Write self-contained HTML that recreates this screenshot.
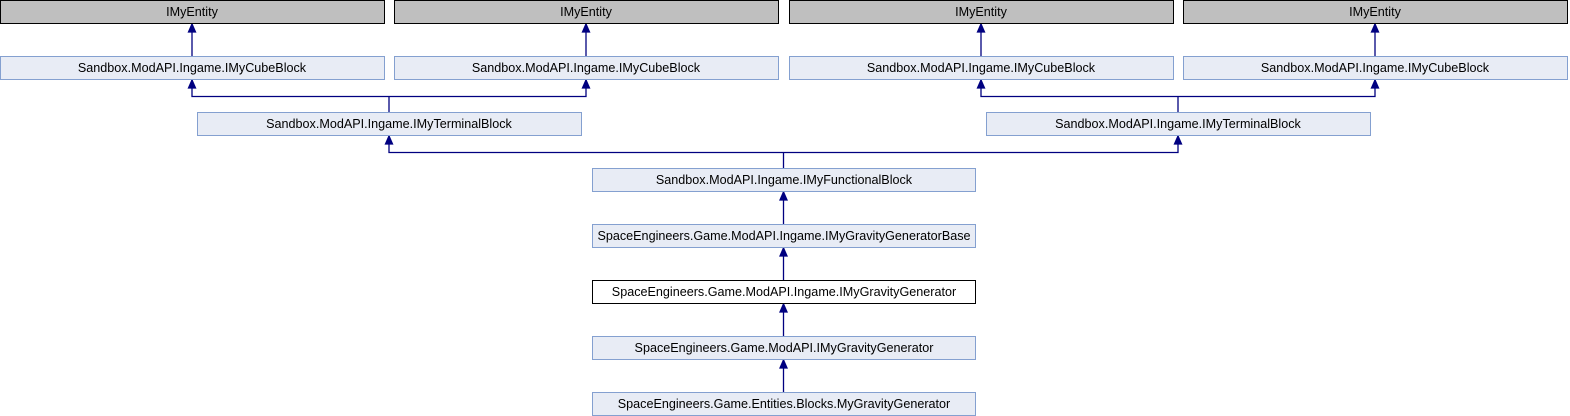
<!DOCTYPE html>
<html><head><style>
html,body{margin:0;padding:0;background:#fff;}
svg{display:block;}
text{font-family:"Liberation Sans",Arial,sans-serif;font-size:12.6px;fill:#000;}
</style></head><body>
<svg width="1570" height="416" viewBox="0 0 1570 416" xmlns="http://www.w3.org/2000/svg">
<g stroke="#000080" stroke-width="1.3" fill="none">
<line x1="192" y1="56" x2="192" y2="24"/><path d="M188.5,32 L192,24 L195.5,32Z" fill="#000080"/>
<line x1="586" y1="56" x2="586" y2="24"/><path d="M582.5,32 L586,24 L589.5,32Z" fill="#000080"/>
<line x1="981" y1="56" x2="981" y2="24"/><path d="M977.5,32 L981,24 L984.5,32Z" fill="#000080"/>
<line x1="1375" y1="56" x2="1375" y2="24"/><path d="M1371.5,32 L1375,24 L1378.5,32Z" fill="#000080"/>
<polyline points="192,80 192,96.5 586,96.5 586,80"/><line x1="389" y1="96" x2="389" y2="112"/>
<path d="M188.5,88 L192,80 L195.5,88Z" fill="#000080"/><path d="M582.5,88 L586,80 L589.5,88Z" fill="#000080"/>
<polyline points="981,80 981,96.5 1375,96.5 1375,80"/><line x1="1178" y1="96" x2="1178" y2="112"/>
<path d="M977.5,88 L981,80 L984.5,88Z" fill="#000080"/><path d="M1371.5,88 L1375,80 L1378.5,88Z" fill="#000080"/>
<polyline points="389,136 389,152.5 1178,152.5 1178,136"/><line x1="783.5" y1="152" x2="783.5" y2="168"/>
<path d="M385.5,144 L389,136 L392.5,144Z" fill="#000080"/><path d="M1174.5,144 L1178,136 L1181.5,144Z" fill="#000080"/>
<line x1="783.5" y1="224" x2="783.5" y2="192"/><path d="M780,200 L783.5,192 L787,200Z" fill="#000080"/>
<line x1="783.5" y1="280" x2="783.5" y2="248"/><path d="M780,256 L783.5,248 L787,256Z" fill="#000080"/>
<line x1="783.5" y1="336" x2="783.5" y2="304"/><path d="M780,312 L783.5,304 L787,312Z" fill="#000080"/>
<line x1="783.5" y1="392" x2="783.5" y2="360"/><path d="M780,368 L783.5,360 L787,368Z" fill="#000080"/>
</g>
<g stroke-width="1">
<rect x="0.5" y="0.5" width="384" height="23" fill="#bfbfbf" stroke="#000"/>
<rect x="394.5" y="0.5" width="384" height="23" fill="#bfbfbf" stroke="#000"/>
<rect x="789.5" y="0.5" width="384" height="23" fill="#bfbfbf" stroke="#000"/>
<rect x="1183.5" y="0.5" width="384" height="23" fill="#bfbfbf" stroke="#000"/>
<rect x="0.5" y="56.5" width="384" height="23" fill="#e8ecf5" stroke="#84a0d0"/>
<rect x="394.5" y="56.5" width="384" height="23" fill="#e8ecf5" stroke="#84a0d0"/>
<rect x="789.5" y="56.5" width="384" height="23" fill="#e8ecf5" stroke="#84a0d0"/>
<rect x="1183.5" y="56.5" width="384" height="23" fill="#e8ecf5" stroke="#84a0d0"/>
<rect x="197.5" y="112.5" width="384" height="23" fill="#e8ecf5" stroke="#84a0d0"/>
<rect x="986.5" y="112.5" width="384" height="23" fill="#e8ecf5" stroke="#84a0d0"/>
<rect x="592.5" y="168.5" width="383" height="23" fill="#e8ecf5" stroke="#84a0d0"/>
<rect x="592.5" y="224.5" width="383" height="23" fill="#e8ecf5" stroke="#84a0d0"/>
<rect x="592.5" y="280.5" width="383" height="23" fill="#fff" stroke="#000"/>
<rect x="592.5" y="336.5" width="383" height="23" fill="#e8ecf5" stroke="#84a0d0"/>
<rect x="592.5" y="392.5" width="383" height="23" fill="#e8ecf5" stroke="#84a0d0"/>
</g>
<g text-anchor="middle">
<text x="192" y="16">IMyEntity</text>
<text x="586" y="16">IMyEntity</text>
<text x="981" y="16">IMyEntity</text>
<text x="1375" y="16">IMyEntity</text>
<text x="192" y="72">Sandbox.ModAPI.Ingame.IMyCubeBlock</text>
<text x="586" y="72">Sandbox.ModAPI.Ingame.IMyCubeBlock</text>
<text x="981" y="72">Sandbox.ModAPI.Ingame.IMyCubeBlock</text>
<text x="1375" y="72">Sandbox.ModAPI.Ingame.IMyCubeBlock</text>
<text x="389" y="128">Sandbox.ModAPI.Ingame.IMyTerminalBlock</text>
<text x="1178" y="128">Sandbox.ModAPI.Ingame.IMyTerminalBlock</text>
<text x="784" y="184">Sandbox.ModAPI.Ingame.IMyFunctionalBlock</text>
<text x="784" y="240">SpaceEngineers.Game.ModAPI.Ingame.IMyGravityGeneratorBase</text>
<text x="784" y="296">SpaceEngineers.Game.ModAPI.Ingame.IMyGravityGenerator</text>
<text x="784" y="352">SpaceEngineers.Game.ModAPI.IMyGravityGenerator</text>
<text x="784" y="408">SpaceEngineers.Game.Entities.Blocks.MyGravityGenerator</text>
</g>
</svg>
</body></html>
